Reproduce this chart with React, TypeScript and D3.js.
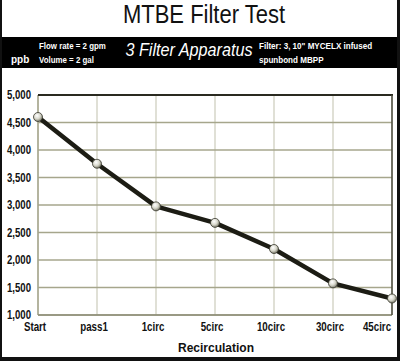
import React from 'react';
import * as d3 from 'd3';

const width = 400;
const height = 361;
const margin = { top: 95, right: 8, bottom: 46, left: 38 };

const categories = ['Start', 'pass1', '1circ', '5circ', '10circ', '30circ', '45circ'];
const mtbe = [4600, 3750, 2975, 2675, 2200, 1575, 1300];
const yTicks = [1000, 1500, 2000, 2500, 3000, 3500, 4000, 4500, 5000];

const sans = '"Liberation Sans", Arial, sans-serif';

// no narrow face installed, so squeeze the regular one sideways
function Narrow({ x, y, sx = 0.84, children, ...rest }: any) {
  return (
    <text transform={`translate(${x},${y}) scale(${sx},1)`} {...rest}>
      {children}
    </text>
  );
}

export default function App() {
  const xScale = d3
    .scalePoint<string>()
    .domain(categories)
    .range([margin.left, width - margin.right]);
  const yScale = d3
    .scaleLinear()
    .domain([1000, 5000])
    .range([height - margin.bottom, margin.top]);

  const line = d3
    .line<number>()
    .x((d, i) => xScale(categories[i]) as number)
    .y((d) => yScale(d));

  const fmt = d3.format(',');
  const x0 = margin.left;
  const x1 = width - margin.right;
  const yTop = yScale(5000);
  const yBot = yScale(1000);

  return (
    <svg
      width={width}
      height={height}
      style={{ position: 'absolute', left: 0, top: 0, display: 'block' }}
    >
      <defs>
        <radialGradient id="ball" cx="40%" cy="35%" r="65%">
          <stop offset="0%" stopColor="#ffffff" />
          <stop offset="55%" stopColor="#d8d8cc" />
          <stop offset="100%" stopColor="#7a7a6a" />
        </radialGradient>
      </defs>
      <rect x={0} y={0} width={width} height={height} fill="#fff" />

      {/* title */}
      <Narrow x={204} y={23} sx={0.88} textAnchor="middle" fontFamily={sans} fontSize={25} fill="#111">
        MTBE Filter Test
      </Narrow>

      {/* black info band */}
      <rect x={0} y={37} width={width} height={31} fill="#000" />
      <g fontFamily={sans} fontWeight="bold" fill="#fff">
        <text x={11} y={63} fontSize={10}>ppb</text>
        <Narrow x={39} y={49} sx={0.93} fontSize={8.5}>Flow rate = 2 gpm</Narrow>
        <Narrow x={39} y={63} sx={0.93} fontSize={8.5}>Volume = 2 gal</Narrow>
        <Narrow x={259} y={49} sx={0.95} fontSize={8.5}>Filter: 3, 10" MYCELX infused</Narrow>
        <Narrow x={259} y={63} sx={0.95} fontSize={8.5}>spunbond MBPP</Narrow>
      </g>
      <Narrow
        x={189}
        y={56}
        sx={0.9}
        textAnchor="middle"
        fontFamily={sans}
        fontStyle="italic"
        fontSize={18}
        fill="#fff"
      >
        3 Filter Apparatus
      </Narrow>

      {/* grid */}
      {categories.map((c) => (
        <line
          key={c}
          x1={xScale(c)}
          x2={xScale(c)}
          y1={yTop}
          y2={yBot}
          stroke="#d6d6c8"
          strokeWidth={1.5}
        />
      ))}
      {yTicks.map((t) => (
        <line
          key={t}
          x1={x0}
          x2={x1}
          y1={yScale(t)}
          y2={yScale(t)}
          stroke="#a6a68c"
          strokeWidth={1.5}
        />
      ))}
      {/* frame */}
      <line x1={x0} x2={x0} y1={yTop} y2={yBot} stroke="#a6a68c" strokeWidth={1.5} />
      <line x1={x0} x2={x1} y1={yBot} y2={yBot} stroke="#8e8e78" strokeWidth={1.5} />
      <line x1={x0} x2={x1 + 1} y1={yTop} y2={yTop} stroke="#2a2a20" strokeWidth={2} />
      <line x1={x1} x2={x1} y1={yTop} y2={yBot} stroke="#4a4a3c" strokeWidth={1.5} />

      {/* y tick labels */}
      <g fontFamily={sans} fontWeight="bold" fontSize={12} fill="#111" textAnchor="end">
        {yTicks.map((t) => (
          <Narrow key={t} x={31} y={yScale(t)} sx={0.8} dy="0.35em">
            {fmt(t)}
          </Narrow>
        ))}
      </g>
      {/* x tick labels */}
      <g fontFamily={sans} fontWeight="bold" fontSize={12.5} fill="#111" textAnchor="middle">
        {categories.map((c, i) => (
          <Narrow
            key={c}
            x={(xScale(c) as number) + (i === categories.length - 1 ? -15 : -3)}
            y={331}
            sx={0.78}
          >
            {c}
          </Narrow>
        ))}
      </g>
      <text
        x={216}
        y={352}
        textAnchor="middle"
        fontFamily={sans}
        fontWeight="bold"
        fontSize={12}
        fill="#111"
      >
        Recirculation
      </text>

      {/* series */}
      <path
        d={line(mtbe) || ''}
        fill="none"
        stroke="#1c1c14"
        strokeWidth={4.5}
        strokeLinejoin="round"
      />
      {mtbe.map((v, i) => (
        <circle
          key={categories[i]}
          cx={xScale(categories[i])}
          cy={yScale(v)}
          r={4.5}
          fill="url(#ball)"
          stroke="#3a3a30"
          strokeWidth={0.8}
        />
      ))}

      {/* outer border */}
      <rect x={0} y={0} width={2} height={height} fill="#111" />
      <rect x={width - 3} y={0} width={3} height={height} fill="#111" />
      <rect x={0} y={height - 4} width={width} height={4} fill="#111" />
    </svg>
  );
}
